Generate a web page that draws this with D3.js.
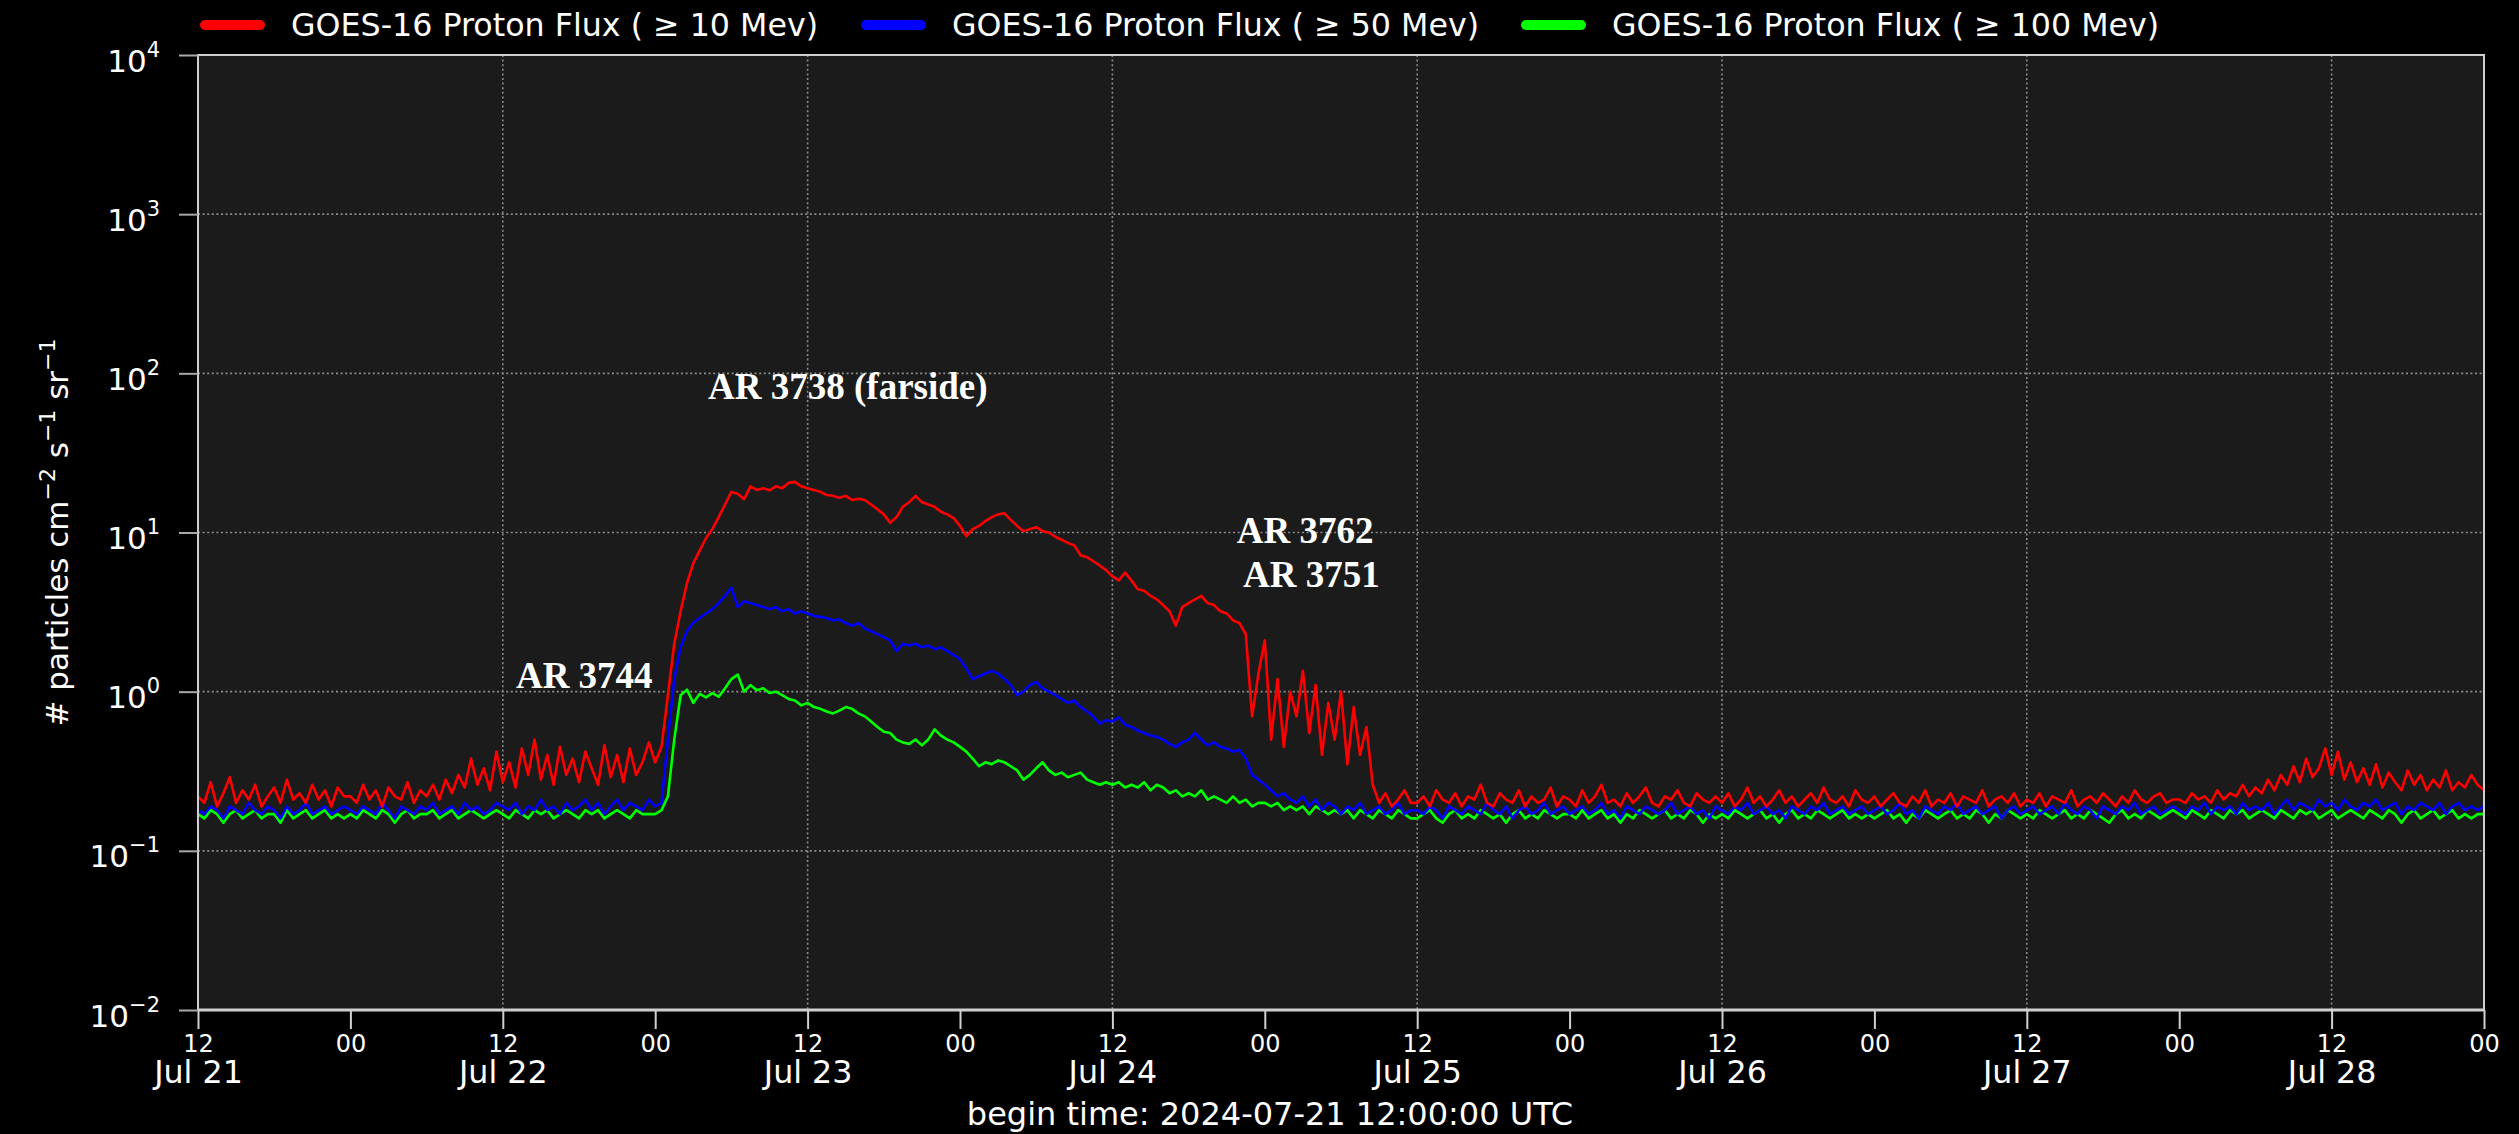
<!DOCTYPE html>
<html>
<head>
<meta charset="utf-8">
<script src="https://cdn.jsdelivr.net/npm/d3@7"></script>
<style>
html,body{margin:0;padding:0;background:#000;}
svg{display:block;}
</style>
</head>
<body>
<svg id="chart" width="2519" height="1134"></svg>
<script>
// ---------------- DATA ----------------
const seriesNames = [
  "GOES-16 Proton Flux ( \u2265 10 Mev)",
  "GOES-16 Proton Flux ( \u2265 50 Mev)",
  "GOES-16 Proton Flux ( \u2265 100 Mev)"
];
const startTime = "2024-07-21T12:00:00Z";
const endTime = "2024-07-29T00:00:00Z";
const sampleMinutes = 30;

// >=10 MeV (red), one value per 30 min, rows = 12 hours
const flux10 = [
0.22,0.2,0.27,0.19,0.23,0.29,0.2,0.24,0.21,0.26,0.19,0.22,0.25,0.2,0.28,0.21,0.23,0.2,0.26,0.21,0.24,0.19,0.25,0.22,
0.22,0.2,0.26,0.21,0.24,0.19,0.25,0.22,0.21,0.27,0.2,0.24,0.22,0.26,0.21,0.28,0.23,0.3,0.25,0.38,0.26,0.33,0.24,0.42,
0.27,0.36,0.25,0.44,0.3,0.5,0.28,0.4,0.26,0.45,0.3,0.38,0.27,0.42,0.33,0.26,0.46,0.29,0.4,0.27,0.44,0.3,0.36,0.48,
0.36,0.45,0.95,2.0,3.2,4.8,6.4,7.7,9.2,10.5,12.5,15,18,17.5,16.2,19.5,18.5,19,18.4,19.5,19,20.5,20.8,19.5,
19,18.5,18,17.2,17,16.5,17,16,16.3,16,15,14,13,11.5,12.5,14.5,15.5,17,15.5,15,14.5,13.5,13,12.3,
11,9.5,10.5,11,11.8,12.5,13,13.2,12,11,10.2,10.5,10.8,10.2,10,9.4,9,8.6,8.3,7.2,7,6.6,6.2,5.8,
5.3,5.0,5.6,5.0,4.4,4.3,4.0,3.8,3.5,3.2,2.6,3.4,3.6,3.8,4.0,3.6,3.5,3.2,3.1,2.8,2.7,2.3,0.7,1.3,
2.1,0.5,1.2,0.45,1.0,0.7,1.35,0.55,1.1,0.4,0.85,0.5,1.0,0.35,0.8,0.4,0.6,0.26,0.2,0.23,0.19,0.21,0.24,0.2,
0.2,0.22,0.19,0.24,0.21,0.2,0.23,0.19,0.22,0.21,0.26,0.2,0.19,0.23,0.21,0.2,0.24,0.19,0.22,0.2,0.21,0.25,0.19,0.22,
0.21,0.19,0.24,0.2,0.22,0.26,0.2,0.21,0.19,0.23,0.2,0.22,0.25,0.2,0.19,0.22,0.21,0.24,0.2,0.19,0.23,0.21,0.2,0.22,
0.2,0.23,0.19,0.21,0.25,0.2,0.22,0.19,0.21,0.24,0.2,0.22,0.19,0.21,0.23,0.2,0.25,0.21,0.2,0.22,0.19,0.24,0.21,0.2,
0.22,0.19,0.21,0.23,0.2,0.19,0.22,0.2,0.24,0.19,0.21,0.2,0.23,0.19,0.22,0.21,0.2,0.24,0.19,0.21,0.22,0.2,0.23,0.19,
0.21,0.2,0.23,0.19,0.22,0.21,0.2,0.24,0.19,0.21,0.22,0.2,0.23,0.21,0.19,0.22,0.2,0.24,0.21,0.2,0.22,0.23,0.2,0.21,
0.21,0.2,0.23,0.21,0.22,0.2,0.24,0.21,0.23,0.22,0.26,0.22,0.25,0.23,0.28,0.24,0.3,0.26,0.34,0.27,0.38,0.29,0.33,0.44,
0.3,0.42,0.28,0.36,0.27,0.33,0.26,0.35,0.25,0.31,0.27,0.24,0.32,0.26,0.3,0.24,0.28,0.25,0.32,0.24,0.27,0.25,0.3,0.26,
0.24
];

// >=50 MeV (blue)
const flux50 = [
0.18,0.17,0.19,0.18,0.16,0.19,0.18,0.17,0.2,0.18,0.17,0.19,0.18,0.16,0.19,0.17,0.18,0.2,0.17,0.18,0.19,0.17,0.18,0.19,
0.18,0.17,0.19,0.18,0.17,0.2,0.18,0.16,0.19,0.18,0.17,0.19,0.18,0.2,0.17,0.18,0.19,0.17,0.2,0.18,0.19,0.17,0.18,0.2,
0.19,0.18,0.2,0.17,0.19,0.18,0.21,0.18,0.19,0.17,0.2,0.18,0.19,0.21,0.18,0.2,0.17,0.19,0.21,0.18,0.2,0.19,0.18,0.21,
0.19,0.2,0.5,1.2,1.9,2.4,2.7,2.9,3.1,3.3,3.6,4.0,4.5,3.4,3.7,3.6,3.5,3.4,3.3,3.4,3.2,3.3,3.1,3.2,
3.1,3.0,2.95,2.9,2.8,2.85,2.7,2.6,2.7,2.5,2.4,2.3,2.2,2.1,1.8,2.0,1.95,2.0,1.9,1.95,1.85,1.9,1.8,1.7,
1.6,1.4,1.2,1.25,1.3,1.35,1.3,1.2,1.1,0.95,1.0,1.1,1.15,1.05,1.0,0.95,0.9,0.85,0.88,0.8,0.75,0.7,0.63,0.66,
0.65,0.69,0.62,0.6,0.57,0.55,0.53,0.52,0.5,0.47,0.45,0.48,0.5,0.55,0.5,0.46,0.48,0.45,0.44,0.42,0.43,0.38,0.3,0.28,
0.26,0.24,0.22,0.23,0.21,0.2,0.22,0.19,0.21,0.18,0.2,0.19,0.17,0.19,0.18,0.2,0.17,0.18,0.19,0.17,0.18,0.2,0.17,0.18,
0.18,0.17,0.19,0.18,0.16,0.19,0.18,0.17,0.19,0.18,0.17,0.2,0.18,0.17,0.19,0.16,0.18,0.19,0.17,0.18,0.2,0.17,0.18,0.19,
0.17,0.18,0.19,0.17,0.18,0.2,0.17,0.18,0.16,0.19,0.18,0.17,0.19,0.18,0.17,0.18,0.2,0.17,0.18,0.19,0.17,0.18,0.16,0.19,
0.18,0.17,0.19,0.18,0.2,0.17,0.18,0.19,0.17,0.18,0.16,0.19,0.18,0.17,0.19,0.18,0.2,0.17,0.18,0.19,0.17,0.18,0.19,0.17,
0.18,0.19,0.17,0.18,0.2,0.17,0.18,0.16,0.19,0.18,0.17,0.19,0.18,0.2,0.17,0.18,0.19,0.17,0.18,0.19,0.16,0.18,0.19,0.17,
0.18,0.19,0.17,0.18,0.19,0.17,0.2,0.18,0.17,0.19,0.18,0.16,0.19,0.18,0.17,0.19,0.18,0.2,0.17,0.18,0.19,0.17,0.18,0.19,
0.18,0.17,0.19,0.18,0.2,0.17,0.19,0.18,0.19,0.17,0.2,0.18,0.19,0.18,0.2,0.17,0.19,0.21,0.18,0.2,0.19,0.18,0.21,0.19,
0.2,0.18,0.21,0.19,0.18,0.2,0.19,0.21,0.18,0.19,0.2,0.17,0.19,0.18,0.2,0.19,0.18,0.2,0.17,0.19,0.2,0.18,0.19,0.18,
0.19
];

// >=100 MeV (green)
const flux100 = [
0.17,0.16,0.18,0.17,0.15,0.17,0.18,0.16,0.17,0.18,0.16,0.17,0.17,0.15,0.18,0.16,0.17,0.18,0.16,0.17,0.18,0.16,0.17,0.16,
0.17,0.16,0.18,0.17,0.16,0.18,0.17,0.15,0.17,0.18,0.16,0.17,0.17,0.18,0.16,0.17,0.18,0.16,0.17,0.18,0.17,0.16,0.17,0.18,
0.17,0.16,0.18,0.17,0.16,0.18,0.17,0.18,0.16,0.17,0.18,0.17,0.16,0.18,0.17,0.18,0.16,0.17,0.18,0.17,0.16,0.18,0.17,0.17,
0.17,0.18,0.22,0.5,0.95,1.03,0.85,0.97,0.92,0.98,0.93,1.05,1.2,1.28,1.0,1.1,1.02,1.05,0.98,1.0,0.95,0.9,0.88,0.82,
0.85,0.8,0.78,0.75,0.73,0.76,0.8,0.78,0.73,0.7,0.65,0.6,0.56,0.55,0.5,0.48,0.47,0.5,0.46,0.5,0.58,0.53,0.5,0.48,
0.45,0.42,0.38,0.34,0.36,0.35,0.37,0.36,0.34,0.32,0.28,0.3,0.33,0.36,0.32,0.3,0.31,0.29,0.3,0.31,0.28,0.27,0.26,0.27,
0.26,0.27,0.25,0.26,0.25,0.27,0.24,0.26,0.25,0.23,0.24,0.22,0.23,0.22,0.24,0.21,0.22,0.21,0.2,0.22,0.2,0.21,0.19,0.2,
0.2,0.19,0.2,0.18,0.19,0.18,0.19,0.17,0.19,0.18,0.17,0.18,0.17,0.18,0.16,0.18,0.17,0.16,0.18,0.17,0.16,0.18,0.17,0.16,
0.16,0.17,0.18,0.16,0.15,0.17,0.18,0.16,0.17,0.16,0.18,0.17,0.16,0.17,0.15,0.17,0.18,0.16,0.17,0.16,0.18,0.17,0.16,0.17,
0.17,0.16,0.18,0.16,0.17,0.18,0.16,0.17,0.15,0.17,0.16,0.18,0.17,0.16,0.17,0.18,0.16,0.17,0.16,0.18,0.17,0.15,0.17,0.16,
0.17,0.16,0.18,0.17,0.16,0.17,0.18,0.16,0.17,0.15,0.17,0.18,0.16,0.17,0.16,0.18,0.17,0.16,0.17,0.18,0.16,0.17,0.16,0.17,
0.16,0.17,0.18,0.16,0.17,0.15,0.17,0.16,0.18,0.17,0.16,0.17,0.18,0.16,0.17,0.16,0.18,0.17,0.15,0.17,0.16,0.18,0.17,0.16,
0.17,0.16,0.18,0.17,0.16,0.17,0.18,0.16,0.17,0.16,0.18,0.17,0.16,0.15,0.17,0.18,0.16,0.17,0.16,0.18,0.17,0.16,0.17,0.18,
0.17,0.16,0.18,0.17,0.16,0.18,0.17,0.16,0.18,0.17,0.18,0.16,0.17,0.18,0.17,0.16,0.18,0.17,0.16,0.18,0.17,0.18,0.16,0.17,
0.18,0.16,0.17,0.18,0.17,0.16,0.18,0.17,0.16,0.18,0.17,0.15,0.17,0.18,0.16,0.17,0.18,0.16,0.17,0.18,0.16,0.17,0.16,0.17,
0.17
];

const yTickValues = [1e-2, 1e-1, 1, 10, 100, 1000, 1e4];
const yTickExponents = ["\u22122", "\u22121", "0", "1", "2", "3", "4"];
const yGridValues = [1e-1, 1, 10, 100, 1000];
const annotationTexts = ["AR 3744", "AR 3738 (farside)", "AR 3762", "AR 3751"];
const annotationTimes = ["2024-07-22T13:02:00Z", "2024-07-23T04:10:00Z", "2024-07-24T21:48:00Z", "2024-07-24T22:17:00Z"];
const annotationValues = [1.06, 69, 8.65, 4.57];
const footerText = "begin time: 2024-07-21 12:00:00 UTC";

// ---------------- DRAW ----------------
const W = 2519, H = 1134;
const plot = {left: 198, right: 2484, top: 55, bottom: 1010};
const colors = ["#ff0000", "#0000ff", "#00ff00"];
const font = "'DejaVu Sans', sans-serif";

const t0 = new Date(startTime), t1 = new Date(endTime);
const times = flux10.map((_, i) => new Date(t0.getTime() + i * sampleMinutes * 60000));

const x = d3.scaleUtc().domain([t0, t1]).range([plot.left, plot.right]);
const y = d3.scaleLog().domain([1e-2, 1e4]).range([plot.bottom, plot.top]);

const svg = d3.select("#chart");
svg.append("rect").attr("width", W).attr("height", H).attr("fill", "#000");
svg.append("rect")
  .attr("x", x.range()[0]).attr("y", y.range()[1])
  .attr("width", x.range()[1] - x.range()[0]).attr("height", y.range()[0] - y.range()[1])
  .attr("fill", "#1b1b1b");

svg.append("defs").append("clipPath").attr("id", "clip").append("rect")
  .attr("x", plot.left).attr("y", plot.top)
  .attr("width", plot.right - plot.left).attr("height", plot.bottom - plot.top);

// grid
const tickTimes = d3.utcHour.every(12).range(t0, new Date(t1.getTime() + 1));
const gridG = svg.append("g");
gridG.selectAll("line.h").data(yGridValues).join("line")
  .attr("x1", plot.left).attr("x2", plot.right)
  .attr("y1", d => y(d)).attr("y2", d => y(d))
  .attr("stroke", "#8c8c8c").attr("stroke-width", 1.6).attr("stroke-dasharray", "2,2.6");
gridG.selectAll("line.v").data(tickTimes.filter(d => d.getUTCHours() === 12 && +d !== +t0)).join("line")
  .attr("x1", d => x(d)).attr("x2", d => x(d))
  .attr("y1", plot.top).attr("y2", plot.bottom)
  .attr("stroke", "#8c8c8c").attr("stroke-width", 1.6).attr("stroke-dasharray", "2,2.6");

// lines
const lineGen = d3.line().x((d, i) => x(times[i])).y(d => y(d));
const linesG = svg.append("g").attr("clip-path", "url(#clip)");
[[flux100, colors[2]], [flux50, colors[1]], [flux10, colors[0]]].forEach(([data, c]) => {
  linesG.append("path").datum(data)
    .attr("d", lineGen).attr("fill", "none")
    .attr("stroke", c).attr("stroke-width", 2.6).attr("stroke-linejoin", "round");
});

// spines
const spineColor = "#cfcfcf";
svg.append("rect")
  .attr("x", plot.left).attr("y", plot.top)
  .attr("width", plot.right - plot.left).attr("height", plot.bottom - plot.top)
  .attr("fill", "none").attr("stroke", spineColor).attr("stroke-width", 2);
svg.append("line").attr("x1", plot.left).attr("x2", plot.right)
  .attr("y1", plot.bottom).attr("y2", plot.bottom)
  .attr("stroke", spineColor).attr("stroke-width", 3);

// x axis
const xAxis = d3.axisBottom(x).tickValues(tickTimes).tickSize(19).tickSizeOuter(0)
  .tickFormat(d3.utcFormat("%H"));
const xg = svg.append("g").attr("transform", `translate(0,${plot.bottom})`).call(xAxis);
xg.select(".domain").remove();
xg.selectAll(".tick line").attr("stroke", "#d0d0d0").attr("stroke-width", 2);
xg.selectAll(".tick text").attr("y", 42).attr("dy", null)
  .attr("fill", "#fff").style("font-family", font).style("font-size", "24px");
xg.selectAll(".tick").filter(d => d.getUTCHours() === 12).append("text")
  .attr("y", 73).attr("text-anchor", "middle").attr("fill", "#fff")
  .style("font-family", font).style("font-size", "31.7px")
  .text(d => d3.utcFormat("%b %-d")(d));

// y axis
const yAxis = d3.axisLeft(y).tickValues(yTickValues).tickSize(19).tickSizeOuter(0).tickFormat(() => "");
const yg = svg.append("g").attr("transform", `translate(${plot.left},0)`).call(yAxis);
yg.select(".domain").remove();
yg.selectAll(".tick line").attr("stroke", "#a8a8a8").attr("stroke-width", 2);
yg.selectAll(".tick text").remove();
yg.selectAll(".tick").each(function (d, i) {
  const t = d3.select(this).append("text")
    .attr("x", -38).attr("y", 16).attr("text-anchor", "end").attr("fill", "#fff")
    .style("font-family", font).style("font-size", "31px");
  t.append("tspan").text("10");
  t.append("tspan").attr("dy", -15).style("font-size", "21px").text(yTickExponents[i]);
});

// y label
const yl = svg.append("text")
  .attr("transform", `translate(68,${(plot.top + plot.bottom) / 2}) rotate(-90)`)
  .attr("text-anchor", "middle").attr("fill", "#fff")
  .style("font-family", font).style("font-size", "31px");
yl.append("tspan").text("# particles cm");
yl.append("tspan").attr("dy", -13).style("font-size", "22px").text("\u22122");
yl.append("tspan").attr("dy", 13).text(" s");
yl.append("tspan").attr("dy", -13).style("font-size", "22px").text("\u22121");
yl.append("tspan").attr("dy", 13).text(" sr");
yl.append("tspan").attr("dy", -13).style("font-size", "22px").text("\u22121");

// footer
svg.append("text").attr("x", 1270).attr("y", 1125).attr("text-anchor", "middle")
  .attr("fill", "#fff").style("font-family", font).style("font-size", "32px")
  .text(footerText);

// legend
const legendX = [200, 861, 1521];
const legend = svg.append("g");
seriesNames.forEach((name, i) => {
  legend.append("line")
    .attr("x1", legendX[i] + 5).attr("x2", legendX[i] + 60)
    .attr("y1", 25).attr("y2", 25)
    .attr("stroke", colors[i]).attr("stroke-width", 10).attr("stroke-linecap", "round");
  legend.append("text").attr("x", legendX[i] + 91).attr("y", 36)
    .attr("fill", "#fff").style("font-family", font).style("font-size", "31.7px")
    .text(name);
});

// annotations
svg.append("g").selectAll("text").data(annotationTexts).join("text")
  .attr("x", (d, i) => x(new Date(annotationTimes[i])))
  .attr("y", (d, i) => y(annotationValues[i]))
  .attr("fill", "#fff")
  .style("font-family", "'Liberation Serif', 'Times New Roman', serif")
  .style("font-weight", "bold").style("font-size", "37px")
  .text(d => d);
</script>
</body>
</html>
